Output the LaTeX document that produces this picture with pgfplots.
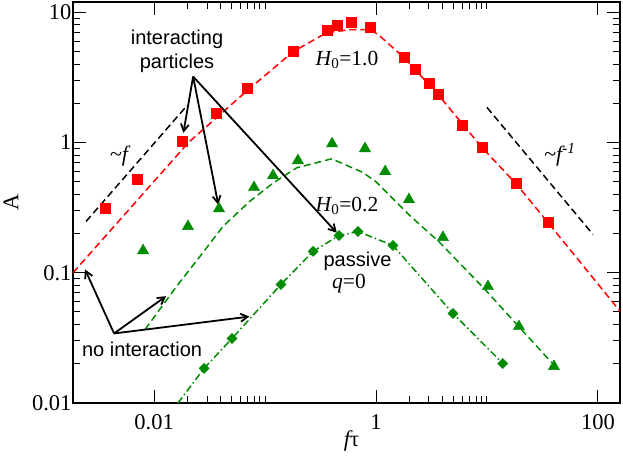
\documentclass[border=0pt]{standalone}
\usepackage{fontspec}
\setmainfont{Liberation Serif}
\newfontfamily\sansf{Liberation Sans}
\usepackage{pgfplots}
\pgfplotsset{compat=1.18}
\usetikzlibrary{arrows.meta}
\definecolor{ggreen}{RGB}{0,140,0}
\begin{document}
\begin{tikzpicture}
\begin{axis}[
  scale only axis, width=547pt, height=401pt,
  xmode=log, ymode=log,
  xmin=0.00186, xmax=158, ymin=0.01, ymax=12,
  xtick={0.01,1,100}, xticklabels={0.01,1,100},
  minor xtick={0.02,0.03,0.04,0.05,0.06,0.07,0.08,0.09,0.1,2,3,4,5,6,7,8,9,10},
  ytick={0.01,0.1,1,10}, yticklabels={0.01,0.1,1,10},
  minor ytick={0.02,0.03,0.04,0.05,0.06,0.07,0.08,0.09,0.2,0.3,0.4,0.5,0.6,0.7,0.8,0.9,2,3,4,5,6,7,8,9},
  major tick length=13pt, minor tick length=7.5pt,
  every tick/.style={black, line width=1pt},
  axis line style={line width=1.1pt},
  /pgf/number format/assume math mode=true,
  ticklabel style={font=\fontsize{22.5}{22.5}\selectfont},
  xticklabel style={anchor=base, yshift=-26pt},
  yticklabel style={anchor=east, xshift=2pt},
  every axis x label/.style={at={([xshift=5pt,yshift=-38pt]rel axis cs:0.5,0)}, anchor=center},
  every axis y label/.style={at={([xshift=-62pt]rel axis cs:0,0.5)}, anchor=center, rotate=90},
  xlabel={\fontsize{22.5}{22.5}\selectfont{\itshape f}τ},
  ylabel={\fontsize{22.5}{22.5}\selectfont A},
  clip=true,
]
% theory lines (no interaction)
\addplot[red, line width=1.5pt, dash pattern=on 7pt off 4pt] coordinates {
(0.00186,0.1) (0.0204,1.0) (0.0707,2.55) (0.18,5.0) (0.36,6.98) (0.6,7.37) (0.9,7.37) (1.09,6.54) (1.79,4.49) (3.62,2.34) (9.02,0.915) (18.2,0.485) (35.5,0.243) (158,0.0507)};
\addplot[ggreen, line width=1.5pt, dash pattern=on 7pt off 4pt] coordinates {
(0.0083,0.0367) (0.016,0.0789) (0.026,0.134) (0.042,0.228) (0.0732,0.355) (0.119,0.491) (0.193,0.640) (0.399,0.750) (0.76,0.59) (1.0,0.50) (2.0,0.277) (3.77,0.170) (9.6,0.0744) (19.8,0.0378) (38.3,0.0204)};
\addplot[ggreen, line width=1.5pt, dash pattern=on 7pt off 3pt on 1.5pt off 3pt] coordinates {
(0.01645,0.01) (0.0282,0.01844) (0.0504,0.0313) (0.139,0.0813) (0.271,0.146) (0.464,0.193) (0.689,0.2074) (1.42,0.162) (4.94,0.0487) (13.9,0.0201)};
% guide lines
\addplot[black, line width=1.5pt, dash pattern=on 7pt off 4pt] coordinates {(0.00244,0.248) (0.0198,1.92)};
\addplot[black, line width=1.5pt, dash pattern=on 7pt off 4pt] coordinates {(10.0,1.86) (90.2,0.197)};
% interacting particles, H0=1.0
\addplot[only marks, mark=square*, mark size=5pt, red, mark options={draw=red, fill=red}] coordinates {
(0.00362,0.311) (0.00703,0.520) (0.01788,1.018) (0.0362,1.67) (0.0689,2.60) (0.179,4.99) (0.362,7.24) (0.445,7.90) (0.596,8.34) (0.883,7.63) (1.79,4.49) (2.25,3.63) (3.00,2.84) (3.62,2.34) (5.96,1.35) (9.02,0.915) (18.2,0.485) (35.5,0.243)};
% interacting particles, H0=0.2
\addplot[only marks, mark=triangle*, mark size=6.5pt, ggreen, mark options={draw=ggreen, fill=ggreen}] coordinates {
(0.00796,0.148) (0.0202,0.227) (0.0385,0.311) (0.0796,0.452) (0.118,0.558) (0.198,0.727) (0.402,0.98) (0.796,0.899) (1.21,0.599) (1.98,0.365) (4.01,0.187) (10.2,0.0785) (19.4,0.0387) (40.1,0.0191)};
% passive q=0
\addplot[only marks, mark=square*, mark size=3.6pt, ggreen, mark options={draw=ggreen, fill=ggreen, rotate=45}] coordinates {
(0.0282,0.01844) (0.0504,0.0313) (0.139,0.0813) (0.271,0.146) (0.464,0.193) (0.689,0.2074) (1.42,0.162) (4.94,0.0487) (13.9,0.0201)};
% annotations
\node[align=center, font=\sansf\fontsize{20}{24}\selectfont] at (axis cs:0.0161,4.99) {interacting\\particles};
\node[font=\fontsize{22}{22}\selectfont] at (axis cs:0.00484,0.78) {\textasciitilde{\itshape f}};
\node[font=\fontsize{22}{22}\selectfont] at (axis cs:45.5,0.809) {\textasciitilde{\itshape f}\textsuperscript{\itshape -1}};
\node[font=\fontsize{21.5}{21.5}\selectfont] at (axis cs:0.548,4.34) {{\itshape H}\textsubscript{0}=1.0};
\node[font=\fontsize{21.5}{21.5}\selectfont] at (axis cs:0.548,0.3285) {{\itshape H}\textsubscript{0}=0.2};
\node[font=\sansf\fontsize{20}{20}\selectfont] at (axis cs:0.681,0.122) {passive};
\node[font=\fontsize{21.5}{21.5}\selectfont] at (axis cs:0.571,0.0828) {{\itshape q}=0};
\node[font=\sansf\fontsize{20}{20}\selectfont] at (axis cs:0.0078,0.0258) {no interaction};
\draw[black, line width=1.8pt, -{Straight Barb[length=7pt,width=8pt]}] (axis cs:0.0225,3.21) -- (axis cs:0.01837,1.187);
\draw[black, line width=1.8pt, -{Straight Barb[length=7pt,width=8pt]}] (axis cs:0.0225,3.21) -- (axis cs:0.0379,0.334);
\draw[black, line width=1.8pt, -{Straight Barb[length=7pt,width=8pt]}] (axis cs:0.0225,3.21) -- (axis cs:0.443,0.203);
\draw[black, line width=1.8pt, -{Straight Barb[length=7pt,width=8pt]}] (axis cs:0.00436,0.0342) -- (axis cs:0.00239,0.106);
\draw[black, line width=1.8pt, -{Straight Barb[length=7pt,width=8pt]}] (axis cs:0.00436,0.0342) -- (axis cs:0.01283,0.0661);
\draw[black, line width=1.8pt, -{Straight Barb[length=7pt,width=8pt]}] (axis cs:0.00436,0.0342) -- (axis cs:0.0722,0.0461);
\coordinate (ll) at (rel axis cs:0,0);
\coordinate (ur) at (rel axis cs:1,1);
\end{axis}
\pgfresetboundingbox
\path ([shift={(-73pt,-56pt)}]ll) rectangle ([shift={(3pt,2pt)}]ur);
\end{tikzpicture}
\end{document}
